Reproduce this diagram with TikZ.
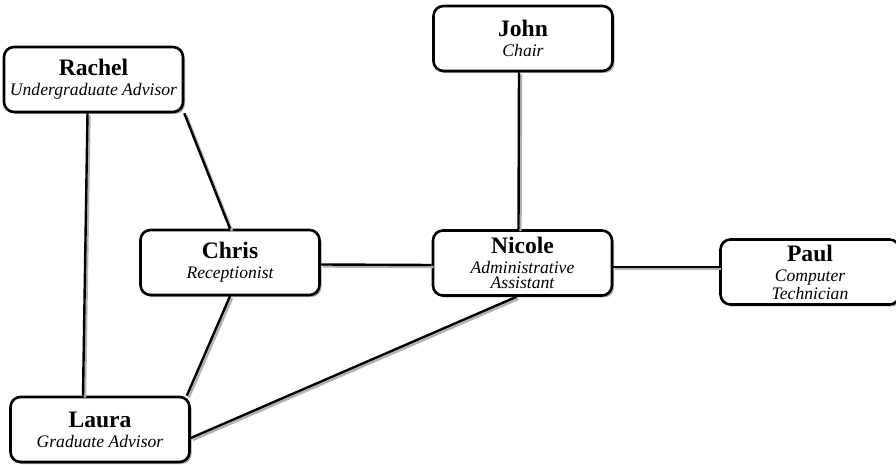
\documentclass[tikz,border=0pt]{standalone}
\usepackage{fontspec}
\setmainfont{Liberation Serif}
\usetikzlibrary{shadows}
\tikzset{
  person/.style={draw, line width=1.3pt, rounded corners=5pt, fill=white,
    minimum width=89.5pt, minimum height=32.5pt, align=center, inner sep=1pt,
    font=\fontsize{8.8}{7.5}\selectfont\itshape,
    drop shadow={shadow xshift=1pt, shadow yshift=-1pt, fill=gray!70, opacity=1}},
  link/.style={line width=1.2pt,
    preaction={draw, gray!60, line width=1.2pt, transform canvas={xshift=1pt,yshift=-1pt}}}
}
\newcommand{\who}[1]{{\fontsize{11.8}{13}\selectfont\bfseries\upshape #1}\\[2.5pt]}
\begin{document}
\begin{tikzpicture}[x=0.5pt,y=-0.5pt]
\useasboundingbox (0,0) rectangle (896,465);
\foreach \n/\x/\y/\r in {Rachel/93.5/79.5/{Undergraduate Advisor},John/523/38.5/Chair,Chris/230/262.5/Receptionist,Nicole/522.5/263/{Administrative\\Assistant},Paul/810/272/{Computer\\Technician},Laura/100/429.5/{Graduate Advisor}}{ \node[person] (\n) at (\x,\y) {\who{\n}\r};}

\draw[link] ([xshift=-3pt]Rachel.south) -- ([xshift=-8.5pt]Laura.north);
\draw[link] (Rachel.south east) -- (Chris.north);
\draw[link] (Chris.south) -- ([xshift=-2pt]Laura.north east);
\draw[link] ([yshift=-1pt]Chris.east) -- ([yshift=-1pt]Nicole.west);
\draw[link] ([xshift=-2pt]John.south) -- ([xshift=-2pt]Nicole.north);
\draw[link] ([yshift=-2pt]Nicole.east) -- ([yshift=2.5pt]Paul.west);
\draw[link] ([xshift=-3pt]Nicole.south) -- ([yshift=-4.25pt]Laura.east);

\end{tikzpicture}
\end{document}
